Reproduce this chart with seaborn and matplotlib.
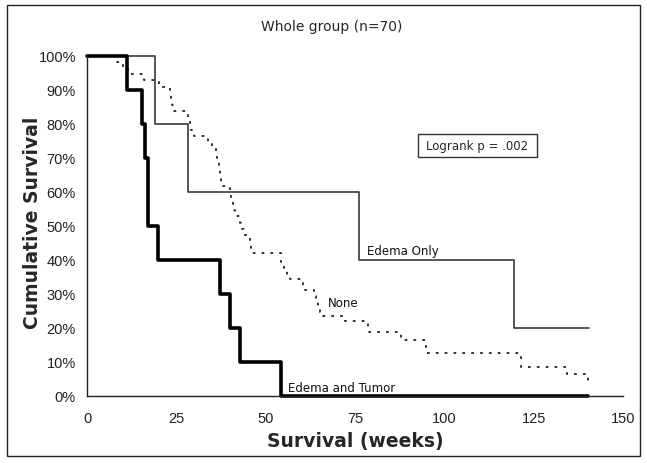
import matplotlib
matplotlib.use("Agg")
import matplotlib.pyplot as plt
import seaborn as sns
import pandas as pd
from matplotlib.patches import Rectangle
from matplotlib.ticker import PercentFormatter

# ---- data ----
edema_only_weeks = [0, 19.0, 28.3, 76.2, 119.4, 140.4]
edema_only_surv = [1.0, 0.8, 0.6, 0.4, 0.2, 0.2]

edema_tumor_weeks = [0, 11.2, 15.5, 16.3, 17.0, 20.0, 37.3, 40.0, 42.8, 54.2, 140.3]
edema_tumor_surv = [1.0, 0.9, 0.8, 0.7, 0.5, 0.4, 0.3, 0.2, 0.1, 0.0, 0.0]

none_weeks = [0, 8.0, 10.1, 11.5, 16.0, 20.2, 23.2, 23.5, 23.8, 24.3, 28.2, 28.7, 29.2, 30.0,
              34.0, 35.0, 36.0, 36.5, 37.0, 37.2, 37.3, 37.4, 40.1, 40.4, 40.8, 41.1, 41.3,
              42.7, 43.0, 44.0, 45.5, 45.8, 46.0, 54.3, 55.0, 56.0, 56.7, 60.5, 61.0, 63.5,
              64.0, 64.6, 65.3, 66.0, 72.1, 78.5, 88.0, 95.0, 121.5, 134.2, 140.3]
none_surv = [1.0, 0.982, 0.964, 0.946, 0.929, 0.909, 0.891, 0.873, 0.855, 0.837, 0.819, 0.801,
             0.783, 0.765, 0.747, 0.729, 0.71, 0.692, 0.674, 0.655, 0.637, 0.619, 0.60, 0.582,
             0.564, 0.546, 0.528, 0.51, 0.491, 0.473, 0.455, 0.436, 0.42, 0.395, 0.375, 0.355,
             0.344, 0.325, 0.313, 0.295, 0.28, 0.265, 0.247, 0.236, 0.222, 0.187, 0.165, 0.126,
             0.086, 0.066, 0.045]

x_ticks = [0, 25, 50, 75, 100, 125, 150]
y_ticks = [0, 0.1, 0.2, 0.3, 0.4, 0.5, 0.6, 0.7, 0.8, 0.9, 1.0]

title = "Whole group (n=70)"
x_label = "Survival (weeks)"
y_label = "Cumulative Survival"
logrank_text = "Logrank p = .002"

# ---- build frames ----
df_eo = pd.DataFrame({"weeks": edema_only_weeks, "surv": edema_only_surv})
df_et = pd.DataFrame({"weeks": edema_tumor_weeks, "surv": edema_tumor_surv})
df_no = pd.DataFrame({"weeks": none_weeks, "surv": none_surv})

sns.set_theme(style="white")
plt.rcParams["font.family"] = ["DejaVu Sans"]

W, H, DPI = 647, 464, 100
fig = plt.figure(figsize=(W / DPI, H / DPI), dpi=DPI)
fig.patch.set_facecolor("white")

left, right, top, bottom = 87, 623, 57, 397
ax = fig.add_axes([left / W, 1 - bottom / H, (right - left) / W, (bottom - top) / H])
ax.set_facecolor("white")

common = dict(x="weeks", y="surv", estimator=None, sort=False, drawstyle="steps-post", ax=ax, legend=False)
sns.lineplot(data=df_no, color="#222222", linewidth=1.3, linestyle=(0, (1.5, 3.4)), **common)
sns.lineplot(data=df_eo, color="#3a3a3a", linewidth=1.2, **common)
sns.lineplot(data=df_et, color="black", linewidth=2.6, **common)
for ln in ax.get_lines():
    ln.set_clip_on(False)

ax.set_xlim(0, 150)
ax.set_ylim(0, 1)
ax.set_xticks(x_ticks)
ax.set_yticks(y_ticks)
ax.yaxis.set_major_formatter(PercentFormatter(1.0, decimals=0))

for s in ["top", "right"]:
    ax.spines[s].set_visible(False)
for s in ["left", "bottom"]:
    ax.spines[s].set_color("#222222")
    ax.spines[s].set_linewidth(1.0)

ax.tick_params(axis="both", direction="out", length=5, width=1, color="#222222",
               labelsize=10.5, labelcolor="#222222")
ax.tick_params(axis="x", pad=6)
ax.tick_params(axis="y", pad=3)
for lab in ax.get_xticklabels() + ax.get_yticklabels():
    lab.set_family(["Liberation Sans"])

ax.set_xlabel("")
ax.set_ylabel("")

fig.text(355 / W, 1 - 442 / H, x_label, ha="center", va="center", fontsize=13.5, fontweight="bold")
fig.text(33 / W, 1 - 223 / H, y_label, ha="center", va="center", rotation=90, fontsize=13.5, fontweight="bold")
fig.text(332 / W, 1 - 27 / H, title, ha="center", va="center", fontsize=10)

# curve labels
ax.text(78.4, 0.427, "Edema Only", ha="left", va="center", fontsize=8.5, color="#111111")
ax.text(67.4, 0.274, "None", ha="left", va="center", fontsize=8.5, color="#111111")
ax.text(56.2, 0.026, "Edema and Tumor", ha="left", va="center", fontsize=8.5, color="#111111")

# logrank box
bx0, bx1, by0, by1 = 418, 537, 135, 158
fig.patches.append(Rectangle((bx0 / W, 1 - by1 / H), (bx1 - bx0) / W, (by1 - by0) / H,
                             transform=fig.transFigure, facecolor="white", edgecolor="#333333",
                             linewidth=1.0, zorder=3))
fig.text((bx0 + bx1) / 2 / W, 1 - (by0 + by1) / 2 / H, logrank_text, ha="center", va="center",
         fontsize=8.5, zorder=4)

# figure border
fig.patches.append(Rectangle((7 / W, 1 - 457 / H), (640 - 7) / W, (457 - 6) / H,
                             transform=fig.transFigure, facecolor="none", edgecolor="#222222",
                             linewidth=1.0, zorder=5))

fig.savefig("out.png", dpi=DPI)
